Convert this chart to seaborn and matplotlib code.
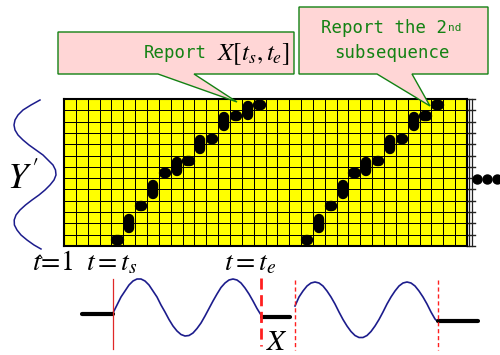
import matplotlib
matplotlib.use("Agg")
import matplotlib.pyplot as plt
import numpy as np
import seaborn as sns
from matplotlib.colors import ListedColormap
from matplotlib.patches import Polygon

# grid size (cells)
N_COLS = 34
N_ROWS = 13

# warping path blobs: column, lowest row, highest row (rows counted from bottom)
PATH1_COLS = [4, 5, 6, 7, 8, 9, 10, 11, 12, 13, 14, 15, 16]
PATH1_LO = [0, 1, 3, 4, 6, 6, 7, 8, 9, 10, 11, 11, 12]
PATH1_HI = [0, 2, 3, 5, 6, 7, 7, 9, 9, 11, 11, 12, 12]
PATH2_COLS = [20, 21, 22, 23, 24, 25, 26, 27, 28, 29, 30, 31]
PATH2_LO = [0, 1, 3, 4, 6, 6, 7, 8, 9, 10, 11, 12]
PATH2_HI = [0, 2, 3, 5, 6, 7, 7, 9, 9, 11, 11, 12]

# query curve Y' (left, vertical), pixel points
YQ_Y = [100, 105, 110, 115, 120, 125, 130, 135, 140, 145, 150, 155, 160, 165, 170,
        175, 180, 185, 190, 195, 200, 205, 210, 215, 220, 225, 230, 235, 240, 245, 249]
YQ_X = [40, 31, 23, 18, 15, 14, 15, 18, 23, 29, 36, 43, 48, 53, 55.5,
        56, 54, 50, 45, 39, 32, 25.5, 20, 16, 14.2, 14.4, 17, 21, 27, 34, 41]

# stream X (bottom), pixel points
W1_X = [113, 117, 121, 125, 129, 133, 137, 141, 145, 149, 153, 157, 161, 165, 169, 173,
        177, 181, 185, 189, 193, 197, 201, 205, 209, 213, 217, 221, 225, 229, 233, 237,
        241, 245, 249, 253, 257, 261]
W1_Y = [313, 305, 297, 291, 285, 281, 279, 279, 281, 285, 291, 297, 305, 312, 319.5, 326,
        331, 334.5, 336, 335.5, 333, 328.5, 323, 316, 308.5, 301, 294, 287.5, 283, 280, 279, 280,
        283, 288, 294, 301, 308.5, 315]
W2_X = [295, 299, 303, 307, 311, 315, 319, 323, 327, 331, 335, 339, 343, 347, 351, 355,
        359, 363, 367, 371, 375, 379, 383, 387, 391, 395, 399, 403, 407, 411, 415, 419,
        423, 427, 431, 435, 437]
W2_Y = [306, 297, 291, 286, 283, 282, 283, 286, 291, 297, 304, 312, 319.5, 326, 331.5, 335.5,
        337.5, 337.5, 335.5, 331.5, 326, 319.5, 312, 304, 297, 291, 286, 283, 282, 283, 286, 291,
        297, 304, 312, 319, 321]
FLAT_X = [[82, 113], [262, 290], [438, 478]]
FLAT_Y = [[314, 314], [317, 317], [321, 321]]

GREEN = "#138213"
PINK = "#ffd6d6"
NAVY = "#1c1c8c"
RED = "#ff2020"

plt.rcParams["mathtext.fontset"] = "stix"

fig = plt.figure(figsize=(5.0, 3.55), dpi=100)
W, H = 500, 355


def pix_axes(z):
    a = fig.add_axes([0, 0, 1, 1])
    a.set_xlim(0, W)
    a.set_ylim(H, 0)
    a.axis("off")
    a.set_zorder(z)
    a.patch.set_alpha(0)
    return a


ax = pix_axes(0)

# --- grid as a heatmap ---
gx0, gx1, gy0, gy1 = 64, 467, 99, 246
ax_grid = fig.add_axes([gx0 / W, 1 - gy1 / H, (gx1 - gx0) / W, (gy1 - gy0) / H])
ax_grid.set_zorder(1)
sns.heatmap(np.zeros((N_ROWS, N_COLS)), cmap=ListedColormap(["#ffff00"]), cbar=False,
            linewidths=0.7, linecolor="black", xticklabels=False, yticklabels=False,
            ax=ax_grid)
for s in ax_grid.spines.values():
    s.set_visible(True)
    s.set_linewidth(1.5)
    s.set_color("black")


def draw_path(cols, lo, hi):
    for c, r0, r1 in zip(cols, lo, hi):
        y0 = N_ROWS - 1 - r0
        y1 = N_ROWS - 1 - r1
        if r0 == r1:
            ax_grid.plot([c + 0.4, c + 0.6], [y0 + 0.5, y0 + 0.5], color="black", lw=7.5,
                         solid_capstyle="round", clip_on=False, zorder=5)
        else:
            ax_grid.plot([c + 0.5, c + 0.5], [y0 + 0.4, y1 + 0.6], color="black", lw=7.5,
                         solid_capstyle="round", clip_on=False, zorder=5)


draw_path(PATH1_COLS, PATH1_LO, PATH1_HI)
draw_path(PATH2_COLS, PATH2_LO, PATH2_HI)

# right edge of the grid: ticks and double line
row_h = (gy1 - gy0) / N_ROWS
for k in range(N_ROWS + 1):
    yy = gy0 + k * row_h
    ax.plot([gx1, 475], [yy, yy], color="#222222", lw=1.0)
ax.plot([469, 469], [gy0, gy1], color="#222222", lw=0.9)
ax.plot([472, 472], [gy0, gy1], color="#222222", lw=0.9)

# continuation dots
ax.scatter([477, 487, 497], [179, 179, 179], s=42, color="black", zorder=3)

# query curve
ax.plot(YQ_X, YQ_Y, color=NAVY, lw=1.1)
ax.plot([37, 40, 42], [258, 255, 258], color="black", lw=0.8)

# stream
ax.plot(W1_X, W1_Y, color=NAVY, lw=1.2)
ax.plot(W2_X, W2_Y, color=NAVY, lw=1.2)
for fx, fy in zip(FLAT_X, FLAT_Y):
    ax.plot(fx, fy, color="black", lw=3.0, solid_capstyle="round")

ax.plot([113, 113], [279, 349], color="#e02828", lw=0.9)
ax.plot([261, 261], [278, 346], color=RED, lw=2.0, ls=(0, (4, 2)))
ax.plot([295, 295], [280, 350], color=RED, lw=1.0, ls=(0, (3, 2)))
ax.plot([438, 438], [280, 350], color=RED, lw=1.0, ls=(0, (3, 2)))

# labels
ax.text(7, 189, r"$Y\,'$", fontsize=26, ha="left", va="baseline")
ax.text(32, 270, r"$t\!=\!1$", fontsize=20, ha="left", va="baseline")
ax.text(86, 270, r"$t=t_s$", fontsize=20, ha="left", va="baseline")
ax.text(224, 270, r"$t=t_e$", fontsize=20, ha="left", va="baseline")
ax.text(266, 350, r"$X$", fontsize=21, ha="left", va="baseline")

# callouts
ax_top = pix_axes(2)
box1 = [(58, 32), (294, 32), (294, 74), (194, 74), (237, 102), (158, 74), (58, 74)]
box2 = [(299, 7), (488, 7), (488, 74), (412, 74), (430, 106), (377, 74), (299, 74)]
for pts in (box1, box2):
    ax_top.add_patch(Polygon(pts, closed=True, facecolor=PINK, edgecolor=GREEN, lw=1.0))

mono = "DejaVu Sans Mono"
ax_top.text(144, 53, "Report", family=mono, color=GREEN, fontsize=12.5, va="center")
ax_top.text(217, 60, r"$X[t_s,t_e]$", fontsize=18, va="baseline")
t1 = ax_top.text(321, 28, "Report the 2", family=mono, color=GREEN, fontsize=12.5, va="center")
ax_top.annotate("nd", xy=(1, 1), xycoords=t1, xytext=(1, -3), textcoords="offset points",
                family=mono, color=GREEN, fontsize=8, va="top", ha="left")
ax_top.text(334, 53, "subsequence", family=mono, color=GREEN, fontsize=12.5, va="center")

fig.savefig("out.png", dpi=100)
